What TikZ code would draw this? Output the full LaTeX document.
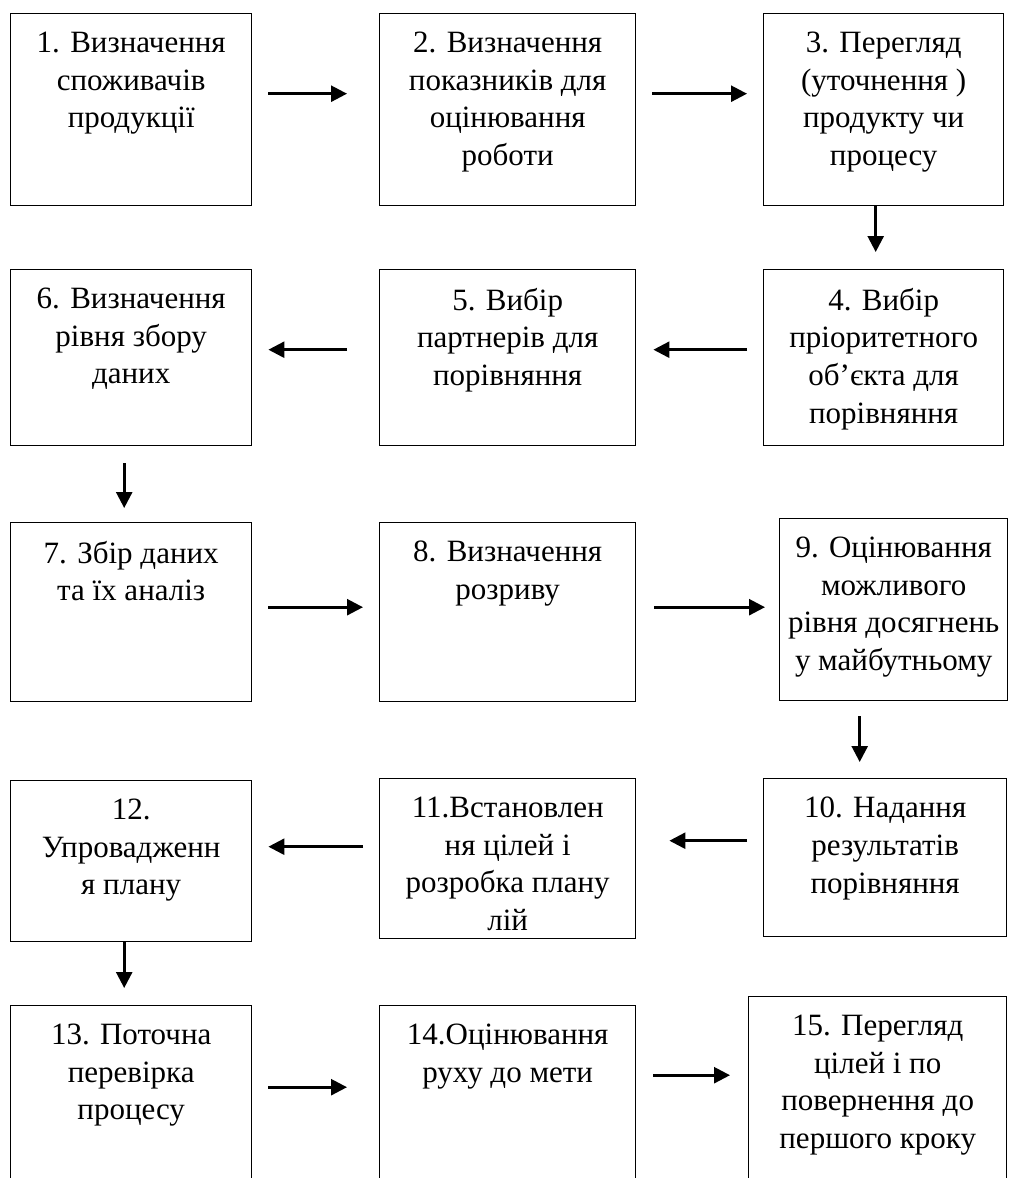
\documentclass[tikz,border=0pt]{standalone}
\usepackage{fontspec}
\setmainfont{Liberation Serif}
\usetikzlibrary{arrows.meta}

\begin{document}
\begin{tikzpicture}[x=1pt, y=-1pt,
    >={Triangle[length=16pt,width=16pt]},
    stage/.style={draw, line width=1.4pt, anchor=north west, inner sep=0pt},
    txt/.style={anchor=north, align=center, inner sep=0pt, yshift=-19pt,
      font=\fontsize{31}{37.6}\selectfont},
    flow/.style={->, line width=2.6pt}]
    \useasboundingbox (0,0) rectangle (1009,1178);
    \clip (0,0) rectangle (1009,1178);

    % row 1
    \node[stage, minimum width=241pt, minimum height=192pt,
      label={[txt]north:{1. Визначення\\споживачів\\продукції}}] (b1) at (10,13) {};
    \node[stage, minimum width=256pt, minimum height=192pt,
      label={[txt]north:{2. Визначення\\показників для\\оцінювання\\роботи}}] (b2) at (379,13) {};
    \node[stage, minimum width=240pt, minimum height=192pt,
      label={[txt]north:{3. Перегляд\\(уточнення )\\продукту чи\\процесу}}] (b3) at (763,13) {};

    % row 2
    \node[stage, minimum width=240pt, minimum height=176pt,
      label={[txt]north:{4. Вибір\\пріоритетного\\об’єкта для\\порівняння}}] (b4) at (763,269) {};
    \node[stage, minimum width=256pt, minimum height=176pt,
      label={[txt]north:{5. Вибір\\партнерів для\\порівняння}}] (b5) at (379,269) {};
    \node[stage, minimum width=241pt, minimum height=176pt,
      label={[txt]north:{6. Визначення\\рівня збору\\даних}}] (b6) at (10,269) {};

    % row 3
    \node[stage, minimum width=241pt, minimum height=179pt,
      label={[txt]north:{7. Збір даних\\та їх аналіз}}] (b7) at (10,522) {};
    \node[stage, minimum width=256pt, minimum height=179pt,
      label={[txt]north:{8. Визначення\\розриву}}] (b8) at (379,522) {};
    \node[stage, minimum width=228pt, minimum height=182pt,
      label={[txt]north:{9. Оцінювання\\можливого\\рівня досягнень\\у майбутньому}}] (b9) at (779,518) {};

    % row 4
    \node[stage, minimum width=243pt, minimum height=158pt,
      label={[txt]north:{10. Надання\\результатів\\порівняння}}] (b10) at (763,778) {};
    \node[stage, minimum width=256pt, minimum height=160pt,
      label={[txt]north:{11.Встановлен\\ня цілей і\\розробка плану\\лій}}] (b11) at (379,778) {};
    \node[stage, minimum width=241pt, minimum height=161pt,
      label={[txt]north:{12.\\Упровадженн\\я плану}}] (b12) at (10,780) {};

    % row 5 (runs off the page)
    \node[stage, minimum width=241pt, minimum height=195pt,
      label={[txt]north:{13. Поточна\\перевірка\\процесу}}] (b13) at (10,1005) {};
    \node[stage, minimum width=256pt, minimum height=195pt,
      label={[txt]north:{14.Оцінювання\\руху до мети}}] (b14) at (379,1005) {};
    \node[stage, minimum width=258pt, minimum height=204pt,
      label={[txt]north:{15. Перегляд\\цілей і по\\повернення до\\першого кроку}}] (b15) at (748,996) {};

    % arrows
    \draw[flow, shorten <=16pt, shorten >=32pt] ([yshift=16pt]b1.east) -- ([yshift=16pt]b1.east -| b2.west);
    \draw[flow, shorten <=16pt, shorten >=16pt] ([yshift=16pt]b2.east) -- ([yshift=16pt]b2.east -| b3.west);
    \draw[flow, shorten >=17pt] ([xshift=-8pt]b3.south) -- ([xshift=-8pt]b3.south |- b4.north);
    \draw[flow, shorten <=16pt, shorten >=17pt] ([yshift=8pt]b4.west) -- ([yshift=8pt]b4.west -| b5.east);
    \draw[flow, shorten <=32pt, shorten >=16pt] ([yshift=8pt]b5.west) -- ([yshift=8pt]b5.west -| b6.east);
    \draw[flow, shorten <=17pt, shorten >=14pt] ([xshift=-7pt]b6.south) -- ([xshift=-7pt]b6.south |- b7.north);
    \draw[flow, shorten <=16pt, shorten >=16pt] ([yshift=5pt]b7.east) -- ([yshift=5pt]b7.east -| b8.west);
    \draw[flow, shorten <=18pt, shorten >=14pt] ([yshift=5pt]b8.east) -- ([yshift=5pt]b8.east -| b9.west);
    \draw[flow, shorten <=15pt, shorten >=16pt] ([xshift=-34pt]b9.south) -- ([xshift=-34pt]b9.south |- b10.north);
    \draw[flow, shorten <=16pt, shorten >=33pt] ([yshift=17pt]b10.west) -- ([yshift=17pt]b10.west -| b11.east);
    \draw[flow, shorten <=16pt, shorten >=16pt] ([yshift=12pt]b11.west) -- ([yshift=12pt]b11.west -| b12.east);
    \draw[flow, shorten >=17pt] ([xshift=-7pt]b12.south) -- ([xshift=-7pt]b12.south |- b13.north);
    \draw[flow, shorten <=16pt, shorten >=32pt] ([yshift=16pt]b13.east) -- ([yshift=16pt]b13.east -| b14.west);
    \draw[flow, shorten <=17pt, shorten >=18pt] ([yshift=28pt]b14.east) -- ([yshift=28pt]b14.east -| b15.west);
\end{tikzpicture}
\end{document}
